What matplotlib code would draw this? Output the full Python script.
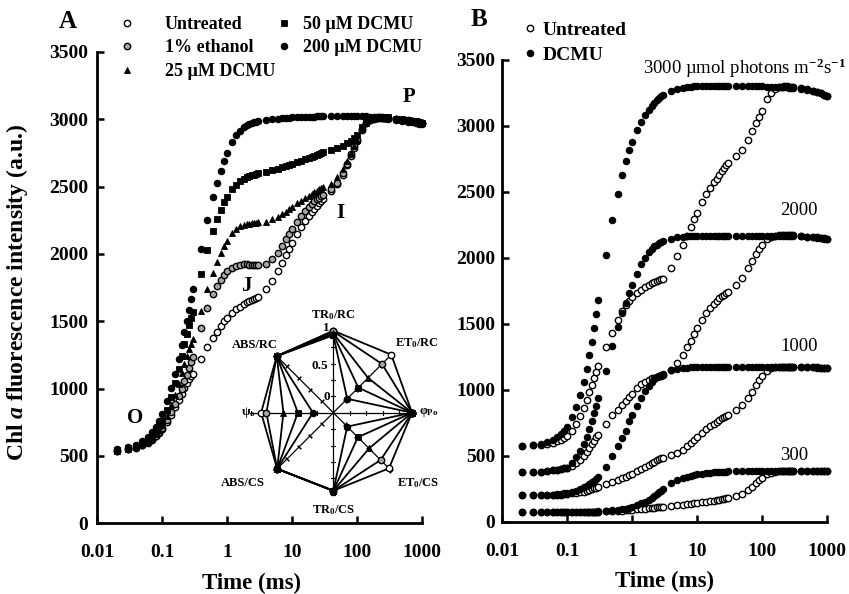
import numpy as np
import matplotlib
matplotlib.use('Agg')
import matplotlib.pyplot as plt
from matplotlib.lines import Line2D
from matplotlib.ticker import NullLocator

plt.rcParams['font.family'] = 'Liberation Serif'
plt.rcParams['font.weight'] = 'bold'
plt.rcParams['axes.labelweight'] = 'bold'
plt.rcParams['mathtext.fontset'] = 'custom'
plt.rcParams['mathtext.rm'] = 'Liberation Serif:bold'
plt.rcParams['mathtext.it'] = 'Liberation Serif:italic:bold'
plt.rcParams['mathtext.bf'] = 'Liberation Serif:bold'
plt.rcParams['mathtext.sf'] = 'Liberation Serif'

# sampling times (ms)
T = [0.02, 0.03, 0.04, 0.05, 0.06, 0.07, 0.08, 0.09, 0.1,
     0.12, 0.14, 0.16, 0.18, 0.2, 0.22, 0.24, 0.26, 0.28, 0.3,
     0.4, 0.5, 0.6, 0.7, 0.8, 0.9, 1.0,
     1.2, 1.4, 1.6, 1.8, 2.0, 2.2, 2.4, 2.6, 2.8, 3.0,
     4, 5, 6, 7, 8, 9, 10,
     12, 14, 16, 18, 20, 22, 24, 26, 28, 30,
     40, 50, 60, 70, 80, 90, 100,
     120, 140, 160, 180, 200, 220, 240, 260, 280, 300,
     400, 500, 600, 700, 800, 900, 1000]

# panel A
A_untreated = [535, 550, 562, 580, 600, 622, 645, 670, 700,
               750, 805, 860, 912, 960, 1005, 1040, 1070, 1092, 1110,
               1220, 1310, 1378, 1420, 1465, 1500, 1525,
               1560, 1588, 1610, 1628, 1642, 1652, 1661, 1669, 1676, 1682,
               1740, 1800, 1870, 1935, 1990, 2040, 2085,
               2150, 2200, 2245, 2280, 2310, 2335, 2355, 2375, 2390, 2405,
               2470, 2520, 2590, 2660, 2730, 2790, 2840,
               2920, 2970, 2995, 3005, 3010, 3012, 3012, 3012, 3010, 3010,
               3000, 2995, 2990, 2985, 2980, 2975, 2970]
A_ethanol = [537, 552, 565, 583, 604, 628, 652, 678, 710,
             765, 825, 885, 945, 1000, 1055, 1105, 1150, 1195, 1235,
             1450, 1600, 1700, 1760, 1810, 1845, 1870,
             1895, 1910, 1918, 1922, 1922, 1920, 1918, 1916, 1915, 1915,
             1925, 1960, 2010, 2060, 2110, 2150, 2185,
             2240, 2285, 2320, 2350, 2370, 2390, 2405, 2418, 2428, 2438,
             2480, 2530, 2600, 2670, 2740, 2800, 2850,
             2930, 2975, 2998, 3008, 3012, 3014, 3014, 3013, 3012, 3010,
             3002, 2997, 2992, 2987, 2982, 2977, 2972]
A_dcmu25 = [540, 555, 570, 590, 612, 637, 665, 695, 730,
            800, 875, 955, 1035, 1115, 1185, 1245, 1295, 1335, 1370,
            1580, 1740, 1860, 1940, 2010, 2060, 2100,
            2155, 2185, 2205, 2215, 2222, 2226, 2228, 2230, 2232, 2234,
            2240, 2258, 2278, 2298, 2315, 2333, 2350,
            2375, 2397, 2415, 2432, 2447, 2460, 2470, 2480, 2488, 2495,
            2520, 2570, 2630, 2690, 2750, 2800, 2850,
            2930, 2975, 3000, 3010, 3014, 3015, 3015, 3014, 3013, 3012,
            3003, 2998, 2993, 2988, 2983, 2978, 2973]
A_dcmu50 = [545, 560, 577, 600, 625, 653, 685, 720, 760,
            845, 940, 1040, 1145, 1245, 1330, 1405, 1470, 1525, 1570,
            1850, 2033, 2167, 2261, 2330, 2385, 2425,
            2480, 2515, 2540, 2558, 2570, 2578, 2584, 2589, 2594, 2598,
            2610, 2622, 2633, 2643, 2652, 2660, 2667,
            2680, 2692, 2702, 2712, 2720, 2728, 2735, 2742, 2748, 2755,
            2775, 2790, 2805, 2822, 2840, 2860, 2885,
            2940, 2980, 3002, 3012, 3016, 3018, 3018, 3017, 3016, 3015,
            3005, 3000, 2995, 2990, 2985, 2980, 2975]
A_dcmu200 = [550, 565, 585, 610, 640, 675, 715, 760, 810,
             905, 1005, 1110, 1220, 1325, 1420, 1505, 1585, 1665, 1740,
             2040, 2250, 2420, 2530, 2615, 2690, 2750,
             2830, 2880, 2915, 2940, 2955, 2965, 2972, 2977, 2981, 2985,
             2995, 3000, 3005, 3008, 3010, 3012, 3014,
             3016, 3018, 3019, 3020, 3021, 3021, 3022, 3022, 3022, 3023,
             3024, 3025, 3025, 3025, 3025, 3024, 3024,
             3023, 3022, 3020, 3018, 3016, 3014, 3012, 3010, 3008, 3005,
             2995, 2988, 2982, 2977, 2972, 2967, 2962]

# panel B
B_3000_untreated = [575, 578, 583, 590, 598, 608, 620, 634, 650,
                    690, 740, 800, 860, 920, 980, 1035, 1085, 1135, 1180,
                    1320, 1427, 1530, 1600, 1645, 1675, 1700,
                    1730, 1755, 1775, 1790, 1805, 1815, 1822, 1830, 1836, 1840,
                    1920, 2010, 2095, 2165, 2230, 2290, 2340,
                    2420, 2480, 2530, 2570, 2600, 2630, 2655, 2680, 2700, 2715,
                    2770, 2815, 2890, 2960, 3020, 3065, 3110,
                    3200, 3250, 3278, 3290, 3295, 3297, 3297, 3296, 3295, 3294,
                    3285, 3275, 3265, 3255, 3245, 3235, 3225]
B_3000_dcmu = [575, 580, 590, 603, 620, 640, 663, 690, 720,
               790, 870, 960, 1060, 1160, 1260, 1360, 1465, 1570, 1680,
               2020, 2285, 2480, 2624, 2735, 2816, 2879,
               2965, 3030, 3080, 3120, 3150, 3175, 3195, 3210, 3222, 3233,
               3265, 3280, 3288, 3292, 3295, 3297, 3298,
               3299, 3300, 3300, 3300, 3300, 3300, 3300, 3300, 3300, 3300,
               3300, 3300, 3300, 3300, 3299, 3298, 3297,
               3296, 3295, 3294, 3293, 3292, 3291, 3290, 3289, 3288, 3287,
               3280, 3272, 3263, 3254, 3245, 3236, 3225]
B_2000_untreated = [375, 377, 380, 384, 388, 393, 398, 404, 410,
                    425, 445, 470, 500, 530, 560, 590, 615, 640, 660,
                    740, 805, 848, 884, 915, 945, 970,
                    1010, 1040, 1060, 1075, 1085, 1092, 1098, 1103, 1107, 1110,
                    1150, 1200, 1260, 1320, 1370, 1420, 1465,
                    1530, 1580, 1620, 1650, 1675, 1695, 1710, 1720, 1730, 1740,
                    1790, 1850, 1920, 1975, 2025, 2065, 2095,
                    2140, 2160, 2168, 2170, 2170, 2170, 2170, 2170, 2170, 2170,
                    2165, 2160, 2157, 2154, 2150, 2146, 2140]
B_2000_dcmu = [375, 377, 380, 384, 389, 395, 400, 405, 410,
               445, 490, 535, 585, 640, 700, 760, 820, 880, 935,
               1145, 1330, 1477, 1580, 1660, 1730, 1790,
               1880, 1950, 2000, 2040, 2065, 2085, 2100, 2110, 2118, 2125,
               2145, 2155, 2160, 2163, 2165, 2166, 2167,
               2168, 2168, 2168, 2168, 2168, 2168, 2168, 2168, 2168, 2168,
               2168, 2168, 2168, 2168, 2168, 2168, 2168,
               2168, 2168, 2168, 2168, 2168, 2168, 2167, 2167, 2166, 2166,
               2162, 2158, 2155, 2152, 2148, 2144, 2140]
B_1000_untreated = [200, 200, 201, 202, 203, 204, 206, 208, 210,
                    214, 218, 222, 227, 233, 239, 245, 252, 258, 265,
                    286, 303, 316, 328, 340, 352, 362,
                    382, 400, 418, 432, 445, 456, 466, 474, 480, 485,
                    505, 520, 545, 570, 595, 618, 640,
                    672, 700, 722, 742, 758, 772, 784, 795, 803, 810,
                    846, 884, 935, 985, 1036, 1077, 1105,
                    1145, 1165, 1172, 1175, 1175, 1175, 1175, 1175, 1175, 1175,
                    1172, 1170, 1170, 1169, 1168, 1168, 1167]
B_1000_dcmu = [200, 200, 202, 204, 206, 208, 211, 214, 218,
               226, 236, 248, 260, 272, 285, 298, 312, 326, 341,
               417, 498, 573, 632, 690, 760, 810,
               880, 940, 990, 1030, 1058, 1080, 1095, 1106, 1115, 1122,
               1150, 1160, 1165, 1168, 1170, 1170, 1171,
               1172, 1172, 1172, 1172, 1172, 1172, 1172, 1172, 1172, 1172,
               1172, 1172, 1172, 1172, 1172, 1172, 1172,
               1172, 1172, 1172, 1172, 1172, 1172, 1172, 1171, 1171, 1171,
               1170, 1169, 1169, 1168, 1168, 1167, 1167]
B_300_untreated = [75, 75, 75, 75, 75, 75, 75, 75, 75,
                   75, 75, 75, 76, 76, 76, 76, 76, 76, 76,
                   78, 80, 82, 84, 86, 88, 90,
                   93, 96, 99, 102, 104, 106, 108, 110, 112, 114,
                   120, 125, 129, 133, 136, 139, 142,
                   147, 151, 155, 159, 163, 167, 171, 175, 179, 183,
                   193, 213, 240, 265, 292, 315, 333,
                   358, 372, 378, 382, 384, 384, 384, 384, 384, 384,
                   383, 383, 383, 383, 383, 383, 383]
B_300_dcmu = [75, 75, 75, 75, 75, 75, 75, 75, 75,
              75, 75, 76, 76, 76, 76, 77, 77, 77, 78,
              82, 86, 90, 95, 100, 106, 112,
              125, 138, 152, 166, 180, 194, 208, 222, 235, 248,
              290, 315, 330, 340, 348, 354, 359,
              365, 369, 372, 374, 376, 377, 378, 379, 380, 381,
              383, 384, 384, 384, 384, 384, 384,
              384, 384, 384, 384, 384, 384, 384, 384, 384, 384,
              384, 383, 383, 383, 383, 382, 382]

# inset radar (relative values)
radar_angles = [0, 45, 90, 135, 180, 225, 270, 315]
radar_labels = [r'φ$_{\mathrm{Po}}$', r'ET$_0$/RC', r'TR$_0$/RC', 'ABS/RC',
                r'ψ$_{\mathrm{o}}$', 'ABS/CS', r'TR$_0$/CS', r'ET$_0$/CS']
R_untreated = [0.95, 1.00, 1.00, 0.97, 0.85, 0.96, 0.94, 0.95]
R_ethanol = [0.95, 0.80, 0.99, 0.97, 0.77, 0.96, 0.94, 0.77]
R_dcmu25 = [0.95, 0.50, 0.96, 0.97, 0.51, 0.96, 0.94, 0.52]
R_dcmu50 = [0.95, 0.29, 0.94, 0.97, 0.29, 0.96, 0.94, 0.28]
R_dcmu200 = [0.95, 0.05, 0.93, 0.97, 0.06, 0.96, 0.94, 0.05]
radar_ticks = [0, 0.25, 0.5, 0.75, 1.0]

xticks = [0.01, 0.1, 1, 10, 100, 1000]
xtick_labels = ['0.01', '0.1', '1', '10', '100', '1000']
yticks = [0, 500, 1000, 1500, 2000, 2500, 3000, 3500]

names_A = ['Untreated', '1% ethanol', '25 µM DCMU', '50 µM DCMU', '200 µM DCMU']
names_B = ['Untreated', 'DCMU']

open_c = dict(marker='o', ms=4.6, mfc='white', mec='black', mew=1.0)
gray_c = dict(marker='o', ms=4.6, mfc='#a6a6a6', mec='black', mew=1.0)
tri = dict(marker='^', ms=5.0, mfc='black', mec='black', mew=0.6)
sq = dict(marker='s', ms=4.3, mfc='black', mec='black', mew=0.6)
fill_c = dict(marker='o', ms=4.6, mfc='black', mec='black', mew=0.8)
styles_A = [open_c, gray_c, tri, sq, fill_c]

fig = plt.figure(figsize=(8.49, 5.94), dpi=100)
axA = fig.add_axes([97/849, 1-523.3/594, 325/849, 471.3/594])
axB = fig.add_axes([502/849, 1-521.7/594, 325/849, 462/594])


def style(ax, ypad):
    ax.set_xscale('log')
    ax.set_xlim(0.01, 1000)
    ax.set_ylim(0, 3500)
    ax.set_xticks(xticks, xtick_labels)
    ax.xaxis.set_minor_locator(NullLocator())
    ax.set_yticks(yticks)
    for s in ['top', 'right']:
        ax.spines[s].set_visible(False)
    for s in ['left', 'bottom']:
        ax.spines[s].set_linewidth(2.0)
    ax.tick_params(direction='in', length=5, width=1.8, labelsize=14)
    ax.tick_params(axis='x', pad=15)
    ax.tick_params(axis='y', pad=ypad)
    ax.set_xlabel('Time (ms)', fontsize=16.5)


style(axA, 6.5)
style(axB, 5)
axA.xaxis.set_label_coords(0.475, -0.105)
axB.xaxis.set_label_coords(0.5, -0.105 * 471.3 / 462)

for vals, st in zip([A_untreated, A_ethanol, A_dcmu25, A_dcmu50, A_dcmu200], styles_A):
    axA.plot(T, vals, ls='none', clip_on=False, **st)

for vals in [B_3000_untreated, B_2000_untreated, B_1000_untreated, B_300_untreated]:
    axB.plot(T, vals, ls='none', clip_on=False, **open_c)
for vals in [B_3000_dcmu, B_2000_dcmu, B_1000_dcmu, B_300_dcmu]:
    axB.plot(T, vals, ls='none', clip_on=False, **fill_c)

axA.set_ylabel('Chl $a$ fluorescence intensity (a.u.)', fontsize=17)
axA.yaxis.set_label_coords(-0.205, 0.49)

# phase labels
axA.text(0.038, 782, 'O', fontsize=15, ha='center', va='center')
axA.text(2.0, 1760, 'J', fontsize=15, ha='center', va='center')
axA.text(55, 2305, 'I', fontsize=15, ha='center', va='center')
axA.text(630, 3167, 'P', fontsize=15, ha='center', va='center')

fig.text(68/849, 1-22/594, 'A', fontsize=18, ha='center', va='center')
fig.text(479/849, 1-20/594, 'B', fontsize=18, ha='center', va='center')

# legends
hA = [Line2D([], [], ls='none', **st) for st in styles_A]
leg1 = axA.legend(hA[:3], names_A[:3], loc='upper left',
                  bbox_to_anchor=(118/849, 1-16/594), bbox_transform=fig.transFigure,
                  frameon=False, fontsize=13, handlelength=1.0, handletextpad=1.6,
                  labelspacing=0.36, borderpad=0, borderaxespad=0)
axA.add_artist(leg1)
axA.legend(hA[3:], names_A[3:], loc='upper left',
           bbox_to_anchor=(275/849, 1-16/594), bbox_transform=fig.transFigure,
           frameon=False, fontsize=13, handlelength=1.0, handletextpad=0.55,
           labelspacing=0.36, borderpad=0, borderaxespad=0)

hB = [Line2D([], [], ls='none', **open_c), Line2D([], [], ls='none', **fill_c)]
axB.legend(hB, names_B, loc='upper left',
           bbox_to_anchor=(524/849, 1-21/594), bbox_transform=fig.transFigure,
           frameon=False, fontsize=14, handlelength=0.6, handletextpad=0.37,
           labelspacing=0.4, borderpad=0, borderaxespad=0)

# light intensity labels
axB.text(1.48, 3437, r'3000 µmol photons m$^{\mathsf{-2}}$s$^{\mathsf{-1}}$',
         fontsize=13.5, fontweight='normal', ha='left', va='center')
axB.text(189, 2354, '2000', fontsize=13.5, fontweight='normal', ha='left', va='center')
axB.text(189, 1331, '1000', fontsize=13.5, fontweight='normal', ha='left', va='center')
axB.text(189, 505, '300', fontsize=13.5, fontweight='normal', ha='left', va='center')

# radar inset
axR = fig.add_axes([251.3/849, 1-494.7/594, 164/849, 164/594], projection='polar')
axR.set_ylim(-0.25, 1.0)
axR.axis('off')
th = np.deg2rad(radar_angles)
for a, t in zip(radar_angles, th):
    axR.plot([t, t], [-0.25, 1.0], color='black', lw=0.9, clip_on=False)
    axR.plot([t] * len(radar_ticks), radar_ticks, ls='none', marker=(2, 2, a),
             ms=3.5, mew=0.8, color='black', clip_on=False)

th_closed = np.append(th, th[0])
for vals, st in zip([R_untreated, R_ethanol, R_dcmu25, R_dcmu50, R_dcmu200], styles_A):
    axR.plot(th_closed, vals + vals[:1], color='black', lw=1.3, clip_on=False, **st)

label_offsets = [(2.7, 0, 'left'), (2.7, 8.4, 'left'), (0, 11.3, 'center'),
                 (-14.6, 7.0, 'center'), (3.6, 0, 'right'), (-23.3, -8.9, 'center'),
                 (0, -11, 'center'), (4.1, -8.9, 'left')]
for t, lab, (dx, dy, ha) in zip(th, radar_labels, label_offsets):
    axR.annotate(lab, xy=(t, 1.0), xytext=(dx, dy), textcoords='offset points',
                 ha=ha, va='center', fontsize=9, annotation_clip=False)

for r, lab, (dx, dy) in zip([1.0, 0.5, 0.0], ['1', '0.5', '0'],
                            [(-4.8, 1.9), (-9.6, -1.8), (-4.8, -0.5)]):
    axR.annotate(lab, xy=(np.pi / 2, r), xytext=(dx, dy), textcoords='offset points',
                 ha='center', va='center', fontsize=9.5, annotation_clip=False)

fig.savefig('out.png', dpi=100)
